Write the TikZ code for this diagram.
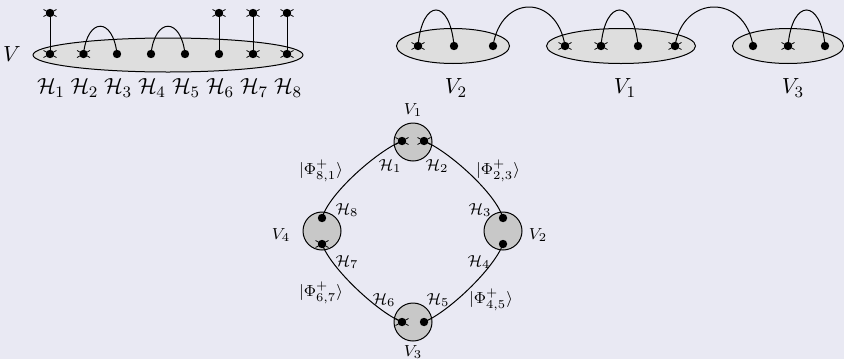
\documentclass[tikz,border=0pt]{standalone}
\usepackage{amsmath}
\usetikzlibrary{shapes.geometric}
\definecolor{bgc}{RGB}{233,233,243}
\definecolor{ellc}{RGB}{222,222,222}
\definecolor{circc}{RGB}{200,200,200}
\tikzset{
  dotn/.style={circle,fill=black,inner sep=0pt,minimum size=4.2pt},
  ell/.style={ellipse,draw=black,fill=ellc,line width=0.5pt,inner sep=0pt},
  vcirc/.style={circle,draw=black,fill=circc,line width=0.5pt,inner sep=0pt,minimum size=19pt},
  lbl/.style={inner sep=0pt,font=\fontsize{11}{13}\selectfont},
  slbl/.style={inner sep=0pt,font=\fontsize{8}{10}\selectfont},
  link/.style={line width=0.5pt},
  xm/.style={line width=0.4pt}
}
\newcommand\xmk[1]{\draw[xm] ([shift={(-6.5,-3.5)}]#1.center) -- ([shift={(6.5,3.5)}]#1.center) ([shift={(-6.5,3.5)}]#1.center) -- ([shift={(6.5,-3.5)}]#1.center);}
\begin{document}
\begin{tikzpicture}[x=0.5pt,y=0.5pt]
\fill[bgc] (0,0) rectangle (844,-359);
\useasboundingbox (0,0) rectangle (844,-359);
% ---------- top left ----------
\node[ell,minimum width=135pt,minimum height=17pt] (E) at (168,-55) {};
\node[lbl] (V) at (12,-54) {$V$};
\foreach \i/\x in {1/50,2/83.5,3/117,4/151,5/185,6/219,7/253,8/287}{
  \node[dotn] (b\i) at (\x,-54) {};
  \node[lbl] (L\i) at (\x+1,-88) {$\mathcal{H}_{\i}$};
}
\foreach \i/\x in {1/50,6/219,7/253,8/287}{
  \node[dotn] (t\i) at (\x,-13) {};
  \draw[link] (t\i.center) -- (b\i.center);
  \xmk{t\i}
}
\draw[link] (b2.center) .. controls +(4,37) and +(-4,37) .. (b3.center);
\draw[link] (b4.center) .. controls +(4,37) and +(-4,37) .. (b5.center);
\foreach \i in {1,2,7,8}{\xmk{b\i}}
% ---------- top right ----------
\node[ell,minimum width=56.5pt,minimum height=17.5pt] (EV2) at (453,-46) {};
\node[ell,minimum width=74.5pt,minimum height=17.5pt] (EV1) at (621,-46) {};
\node[ell,minimum width=55.5pt,minimum height=17.5pt] (EV3) at (788,-46) {};
\node[dotn] (a1) at (418,-46) {};
\node[dotn] (a2) at (454,-46) {};
\node[dotn] (a3) at (493,-46) {};
\node[dotn] (c1) at (565,-46) {};
\node[dotn] (c2) at (601,-46) {};
\node[dotn] (c3) at (638,-46) {};
\node[dotn] (c4) at (675,-46) {};
\node[dotn] (d1) at (753,-46) {};
\node[dotn] (d2) at (788,-46) {};
\node[dotn] (d3) at (825,-46) {};
\draw[link] (a1.center) .. controls +(4,48) and +(-4,48) .. (a2.center);
\draw[link] (a3.center) .. controls +(8,52) and +(-8,52) .. (c1.center);
\draw[link] (c2.center) .. controls +(4,48) and +(-4,48) .. (c3.center);
\draw[link] (c4.center) .. controls +(8,52) and +(-8,52) .. (d1.center);
\draw[link] (d2.center) .. controls +(4,48) and +(-4,48) .. (d3.center);
\foreach \n in {a1,c1,c2,c4,d2}{\xmk{\n}}
\node[lbl] (LV2) at (456,-88) {$V_2$};
\node[lbl] (LV1) at (625,-88) {$V_1$};
\node[lbl] (LV3) at (793,-88) {$V_3$};
% ---------- diamond ----------
\node[vcirc] (C1) at (413,-142) {};
\node[vcirc] (C2) at (503,-231) {};
\node[vcirc] (C3) at (413,-322) {};
\node[vcirc] (C4) at (322,-231) {};
\node[dotn] (p1) at (402,-141) {};
\node[dotn] (p2) at (424,-141) {};
\node[dotn] (p3) at (503,-218) {};
\node[dotn] (p4) at (503,-244) {};
\node[dotn] (p5) at (424,-322) {};
\node[dotn] (p6) at (402,-322) {};
\node[dotn] (p7) at (322,-244) {};
\node[dotn] (p8) at (322,-218) {};
\draw[link] (p1.center) to[out=202,in=74,looseness=0.6] (p8.center);
\draw[link] (p2.center) to[out=-22,in=106,looseness=0.6] (p3.center);
\draw[link] (p7.center) to[out=-70,in=158,looseness=0.6] (p6.center);
\draw[link] (p4.center) to[out=-110,in=22,looseness=0.6] (p5.center);
\foreach \n in {p1,p2,p6,p7}{\xmk{\n}}
\node[slbl] (sV1) at (413,-110) {$V_1$};
\node[slbl] (sV2) at (538,-235) {$V_2$};
\node[slbl] (sV3) at (413,-352) {$V_3$};
\node[slbl] (sV4) at (281,-235) {$V_4$};
\node[slbl] (h1) at (390,-166) {$\mathcal{H}_1$};
\node[slbl] (h2) at (437,-166) {$\mathcal{H}_2$};
\node[slbl] (h3) at (480,-210) {$\mathcal{H}_3$};
\node[slbl] (h4) at (479,-262) {$\mathcal{H}_4$};
\node[slbl] (h5) at (438,-300) {$\mathcal{H}_5$};
\node[slbl] (h6) at (384,-300) {$\mathcal{H}_6$};
\node[slbl] (h7) at (347,-262) {$\mathcal{H}_7$};
\node[slbl] (h8) at (347,-210) {$\mathcal{H}_8$};
\node[slbl] (f81) at (321,-171) {$|\Phi^+_{8,1}\rangle$};
\node[slbl] (f23) at (498,-171) {$|\Phi^+_{2,3}\rangle$};
\node[slbl] (f67) at (321,-293) {$|\Phi^+_{6,7}\rangle$};
\node[slbl] (f45) at (491,-300) {$|\Phi^+_{4,5}\rangle$};
\end{tikzpicture}
\end{document}
